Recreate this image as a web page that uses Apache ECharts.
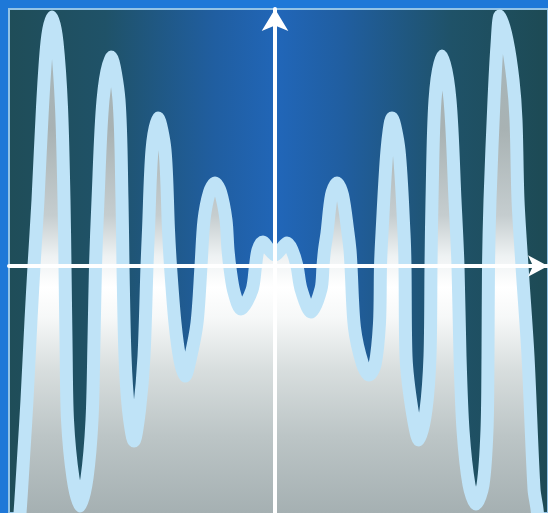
<!DOCTYPE html>
<html>
<head>
<meta charset="utf-8">
<script src="https://cdn.jsdelivr.net/npm/echarts@6/dist/echarts.min.js"></script>
<style>
html,body{margin:0;padding:0;background:#1e78d8;}
#c{width:548px;height:513px;}
</style>
</head>
<body>
<div id="c"></div>
<script>
// Curve samples: x positions and y values (units)
var xs = [
  -25.7, -25.5, -25.1, -24.8, -24.4, -24.1, -23.7, -23.25, -22.8, -22.3,
  -21.8, -21.35, -21.1, -21.0, -20.9, -20.75, -20.2, -19.5, -18.8, -18.3,
  -18.1, -17.95, -17.7, -17.2, -16.4, -15.6, -15.3, -15.2, -15.0, -14.65,
  -14.1, -13.55, -13.1, -12.8, -12.65, -12.3, -11.7, -11.0, -10.65, -10.45,
  -10.0, -9.5, -9.0, -8.5, -7.8, -7.4, -7.1, -6.55, -6.0, -5.45,
  -4.9, -4.7, -4.45, -4.1, -3.4, -2.3, -1.95, -1.7, -1.2, -0.7,
  0, 0.7, 1.2, 1.7, 2.2, 2.6, 3.6, 4.6, 4.8, 4.95,
  5.2, 5.65, 6.2, 6.75, 7.3, 7.5, 7.6, 7.95, 8.75, 9.4,
  10.0, 10.45, 10.55, 10.7, 11.2, 11.7, 12.4, 12.9, 13.0, 13.1,
  13.7, 14.4, 15.1, 15.5, 15.6, 15.7, 16.0, 16.7, 17.5, 18.0,
  18.3, 18.5, 18.8, 19.4, 20.1, 20.8, 21.2, 21.3, 21.35, 21.5,
  21.9, 22.2, 22.5, 23.2, 23.8, 24.1, 24.3, 24.7, 25.3, 25.9,
  26.2, 26.4
];
var ys = [
  -26.4, -24.7, -18.4, -13.4, -5.4, 0, 6.6, 15.9, 22.4, 24.9,
  22.4, 15.9, 6.6, 0, -7.4, -15.4, -21.2, -24.0, -21.2, -15.4,
  -7.4, 0, 6.6, 16.6, 20.9, 16.6, 6.6, 0, -9.0, -14.4,
  -17.5, -14.4, -9.0, 0, 3.6, 11.6, 14.8, 11.6, 3.6, 0,
  -5.7, -9.4, -11.0, -9.4, -5.7, 0, 4.6, 7.4, 8.3, 7.4,
  4.6, 1.6, -0.6, -2.6, -4.3, -2.4, 0, 1.6, 2.4, 1.8,
  1.1, 1.8, 2.3, 1.6, 0, -2.3, -4.6, -2.3, 0, 1.6,
  3.3, 7.1, 8.3, 7.1, 3.3, 1.6, 0, -6.2, -9.8, -10.9,
  -9.9, -5.7, 0, 3.3, 11.6, 14.8, 11.6, 3.3, 0, -9.0,
  -14.4, -17.4, -14.4, -9.0, 0, 6.6, 16.6, 21.0, 16.6, 6.6,
  0, -9.0, -16.4, -21.9, -23.8, -21.9, -16.4, -9.0, 0, 6.6,
  16.6, 22.1, 25.0, 22.6, 18.6, 14.6, 6.6, 0, -9.0, -22.3,
  -24.3, -26.4
];
var xRange = [-26.6, 27.3];
var yRange = [-24.7, 25.7];

var data = xs.map(function (x, i) { return [x, ys[i]]; });

var chart = echarts.init(document.getElementById('c'));
chart.setOption({
  backgroundColor: '#1e78d8',
  animation: false,
  grid: {
    left: 9, right: 0, top: 9, bottom: 0,
    show: true,
    borderColor: '#93c3e6',
    borderWidth: 2,
    backgroundColor: new echarts.graphic.LinearGradient(0, 0, 1, 0, [
      { offset: 0, color: '#1f4d58' },
      { offset: 0.18, color: '#1f5268' },
      { offset: 0.38, color: '#205ea0' },
      { offset: 0.5, color: '#2166b8' },
      { offset: 0.62, color: '#205ea0' },
      { offset: 0.82, color: '#1f5268' },
      { offset: 1, color: '#1d4a54' }
    ])
  },
  xAxis: {
    type: 'value', min: xRange[0], max: xRange[1], z: 5,
    axisLine: { onZero: true, lineStyle: { color: '#ffffff', width: 4 }, symbol: ['none', 'arrow'], symbolSize: [16, 20] },
    axisTick: { show: false }, axisLabel: { show: false }, splitLine: { show: false }
  },
  yAxis: {
    type: 'value', min: yRange[0], max: yRange[1], z: 5,
    axisLine: { onZero: true, lineStyle: { color: '#ffffff', width: 4 }, symbol: ['none', 'arrow'], symbolSize: [20, 22] },
    axisTick: { show: false }, axisLabel: { show: false }, splitLine: { show: false }
  },
  series: [{
    type: 'line',
    data: data,
    smooth: 0.3,
    showSymbol: false,
    clip: true,
    lineStyle: { color: '#bfe3f7', width: 13, cap: 'round', join: 'round' },
    areaStyle: {
      origin: 'start',
      opacity: 1,
      color: new echarts.graphic.LinearGradient(0, 0, 0, 513, [
        { offset: 0, color: '#a7babf' },
        { offset: 0.25, color: '#a8b2b3' },
        { offset: 0.42, color: '#c5cdcf' },
        { offset: 0.5, color: '#eef2f3' },
        { offset: 0.56, color: '#ffffff' },
        { offset: 0.62, color: '#f6f8f8' },
        { offset: 0.72, color: '#d8dede' },
        { offset: 0.85, color: '#bcc5c6' },
        { offset: 1, color: '#a5b0b2' }
      ], true)
    }
  }]
});
</script>
</body>
</html>
